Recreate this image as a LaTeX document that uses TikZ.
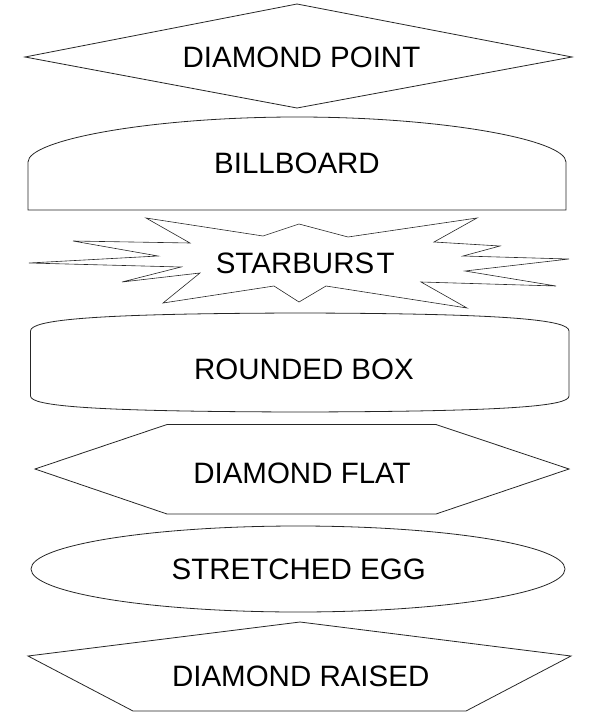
\documentclass[tikz,border=0pt]{standalone}
\usepackage{fontspec}
\setmainfont{Liberation Sans}
\begin{document}
\begin{tikzpicture}[x=1pt,y=-1pt,
  outline/.style={draw=black!85,line width=0.8pt,line join=miter},
  label/.style={font=\fontsize{29.5}{32}\selectfont,inner sep=0pt,anchor=center}]
\useasboundingbox (0,0) rectangle (600,720);
% Diamond point
\draw[outline] (25,57) -- (297,4) -- (572,57) -- (297,108) -- cycle;
\node[label] (dp) at (301.5,57.8) {DIAMOND POINT};
% Billboard
\draw[outline] (28,210) -- (28,162) .. controls (28,140) and (150,117) .. (297,117)
  .. controls (444,117) and (566,140) .. (566,162) -- (566,210) -- cycle;
\node[label] (bb) at (297,163.8) {BILLBOARD};
% Starburst
\draw[outline,line width=0.6pt] (146,218) -- (263,236) -- (299,224) -- (348,237) -- (477,218)
  -- (434,242) -- (500,246) -- (463,256) -- (569,259) -- (465,271) -- (556,286)
  -- (421,282) -- (467,308) -- (326,286) -- (299,302) -- (274,286) -- (163,303)
  -- (200,273) -- (122,282) -- (181,267) -- (29,263) -- (158,256) -- (73,241)
  -- (190,243) -- cycle;
\node[label] (sb) at (305.3,263.3) {STARBURS\kern2.5pt T};
% Rounded box
\draw[outline] (30.5,331) .. controls (30.5,320) and (90,313.5) .. (300,313)
  .. controls (510,313.5) and (569,320) .. (569,331) -- (569,396)
  .. controls (569,406) and (510,411.5) .. (300,412)
  .. controls (90,411.5) and (30.5,406) .. (30.5,396) -- cycle;
\node[label] (rb) at (304,369) {ROUNDED BOX};
% Diamond flat
\draw[outline] (35,469) -- (167,424.5) -- (436,424.5) -- (569,469) -- (436,514) -- (167,514) -- cycle;
\node[label] (df) at (302,473) {DIAMOND FLAT};
% Stretched egg
\draw[outline] (298,569) ellipse [x radius=267,y radius=43];
\node[label] (se) at (298.7,569.5) {STRETCHED EGG};
% Diamond raised
\draw[outline] (28,656) -- (300,622) -- (571,656) -- (466,711) -- (133,711) -- cycle;
\node[label] (dr) at (300.7,676.3) {DIAMOND RAISED};
\end{tikzpicture}
\end{document}
